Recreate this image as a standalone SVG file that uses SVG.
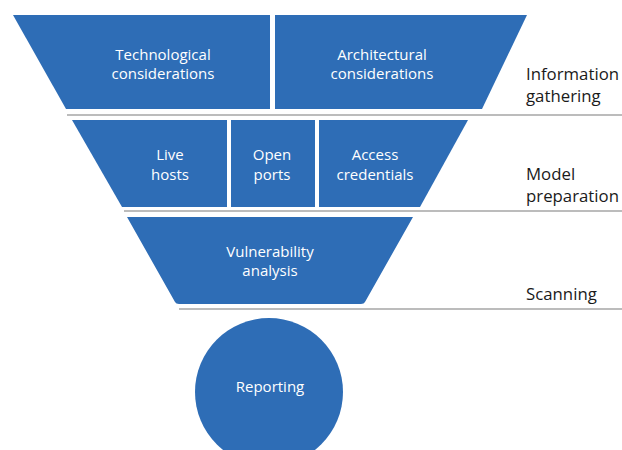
<svg xmlns="http://www.w3.org/2000/svg" width="622" height="450" viewBox="0 0 622 450">
<style>
.shape{fill:#2E6DB6;}
.lbl{font-family:"Open Sans","Liberation Sans",sans-serif;font-size:15px;fill:#ffffff;text-anchor:middle;}
.stage{font-family:"Open Sans","Liberation Sans",sans-serif;font-size:16.8px;fill:#1a1a1a;}
.sep{stroke:#a6a6a6;stroke-width:1.5;fill:none;}
</style>
<rect width="622" height="450" fill="#ffffff"/>
<g id="separators">
<line class="sep" x1="67" y1="115" x2="622" y2="115"/>
<line class="sep" x1="124" y1="211" x2="622" y2="211"/>
<line class="sep" x1="179" y1="309" x2="622" y2="309"/>
</g>
<g id="technological">
<polygon class="shape" points="13,15 270,15 270,109 66,109"/>
<text class="lbl" x="163" y="60">Technological</text>
<text class="lbl" x="163" y="79">considerations</text>
</g>
<g id="architectural">
<polygon class="shape" points="275,15 527,15 482,109 275,109"/>
<text class="lbl" x="382" y="60">Architectural</text>
<text class="lbl" x="382" y="79">considerations</text>
</g>
<g id="live-hosts">
<polygon class="shape" points="72,120 227,120 227,207 122,207"/>
<text class="lbl" x="170" y="160">Live</text>
<text class="lbl" x="170" y="180">hosts</text>
</g>
<g id="open-ports">
<polygon class="shape" points="231,120 315,120 315,207 231,207"/>
<text class="lbl" x="272" y="160">Open</text>
<text class="lbl" x="272" y="180">ports</text>
</g>
<g id="access-credentials">
<polygon class="shape" points="319,120 468,120 420,207 319,207"/>
<text class="lbl" x="375" y="160">Access</text>
<text class="lbl" x="375" y="180">credentials</text>
</g>
<g id="vulnerability-analysis">
<path class="shape" d="M127,217 L413,217 L365,302 Q364,304 361,304 L179,304 Q176,304 175,302 Z"/>
<text class="lbl" x="270" y="257">Vulnerability</text>
<text class="lbl" x="270" y="276">analysis</text>
</g>
<g id="reporting">
<circle class="shape" cx="269" cy="392" r="74"/>
<text class="lbl" x="270" y="392">Reporting</text>
</g>
<g id="stage-labels">
<text class="stage" x="526" y="80">Information</text>
<text class="stage" x="526" y="102">gathering</text>
<text class="stage" x="526" y="180">Model</text>
<text class="stage" x="526" y="202">preparation</text>
<text class="stage" x="526" y="300">Scanning</text>
</g>
</svg>
